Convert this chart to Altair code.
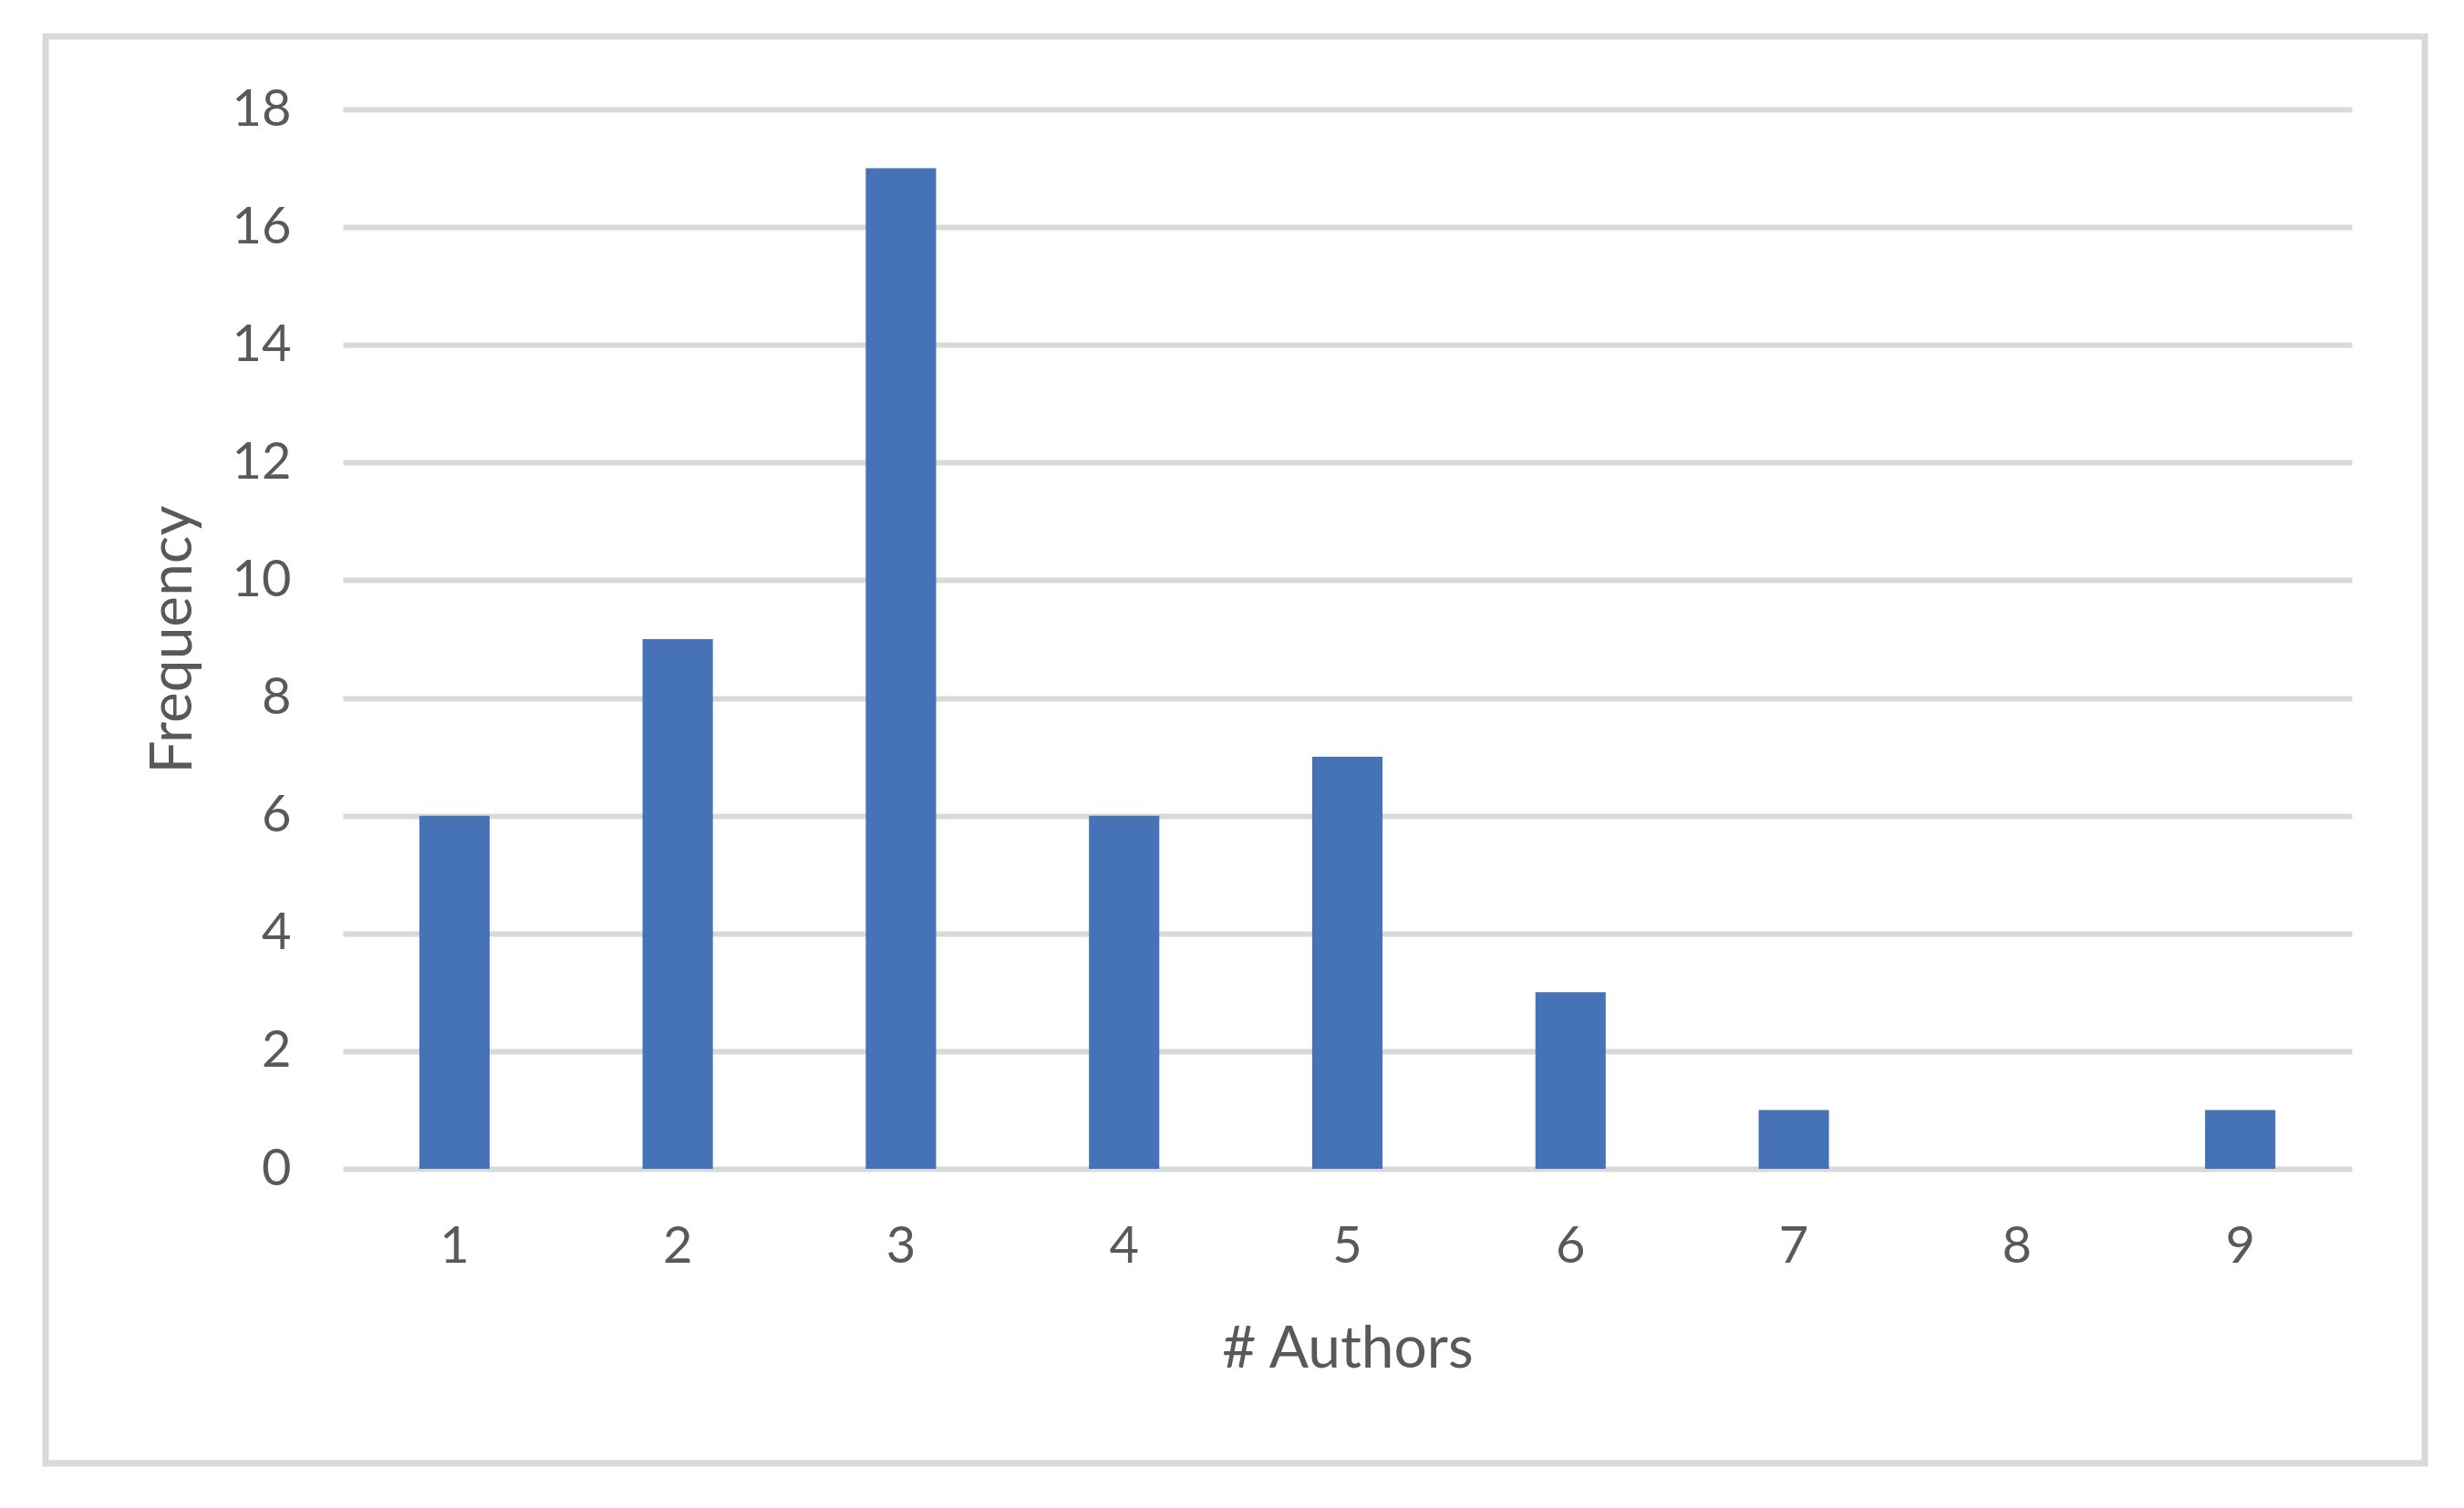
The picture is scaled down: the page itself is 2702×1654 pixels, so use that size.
import altair as alt
import pandas as pd

authors = ["1", "2", "3", "4", "5", "6", "7", "8", "9"]
frequency = [6, 9, 17, 6, 7, 3, 1, 0, 1]
y_ticks = [0, 2, 4, 6, 8, 10, 12, 14, 16, 18]

df = pd.DataFrame({"authors": authors, "frequency": frequency})

W, H = 2203, 1162
FONT = "Lato"
TXT = "#595959"
GRID = "#d9d9d9"

bars = alt.Chart(df).mark_bar(color="#4672B8").encode(
    x=alt.X(
        "authors:N",
        sort=authors,
        scale=alt.Scale(paddingInner=0.685, paddingOuter=0.3425),
        axis=alt.Axis(
            title="# Authors",
            labelAngle=0,
            labelPadding=58,
            labelFontSize=56,
            labelFont=FONT,
            labelColor=TXT,
            domain=False,
            ticks=False,
            grid=False,
            titleFont=FONT,
            titleFontSize=64,
            titleFontWeight="normal",
            titleColor=TXT,
            titleBaseline="alphabetic",
            titleY=217,
            titleX=W / 2,
            titleAlign="center",
        ),
    ),
    y=alt.Y(
        "frequency:Q",
        scale=alt.Scale(domain=[0, 18], nice=False),
        axis=alt.Axis(
            title="Frequency",
            values=y_ticks,
            labelPadding=57,
            labelFontSize=56,
            labelFont=FONT,
            labelColor=TXT,
            domain=False,
            ticks=False,
            grid=True,
            gridColor=GRID,
            gridWidth=6,
            titleFont=FONT,
            titleFontSize=64,
            titleFontWeight="normal",
            titleColor=TXT,
            titleAngle=-90,
            titleBaseline="alphabetic",
            titleAlign="center",
            titleX=-167,
            titleY=H / 2,
        ),
    ),
)

border = alt.Chart(pd.DataFrame({"k": [0]})).mark_rect(
    fill=None, stroke=GRID, strokeWidth=7, clip=False
).encode(
    x=alt.value(-326), x2=alt.value(2283), y=alt.value(-80), y2=alt.value(1485)
)

chart = alt.layer(border, bars).properties(
    width=W,
    height=H,
    autosize=alt.AutoSizeParams(type="none"),
    padding={"left": 368, "top": 112, "right": 100, "bottom": 340},
    background="white",
).configure_view(stroke=None)

chart.save("out.html", embed_options={"renderer": "svg", "actions": False})
